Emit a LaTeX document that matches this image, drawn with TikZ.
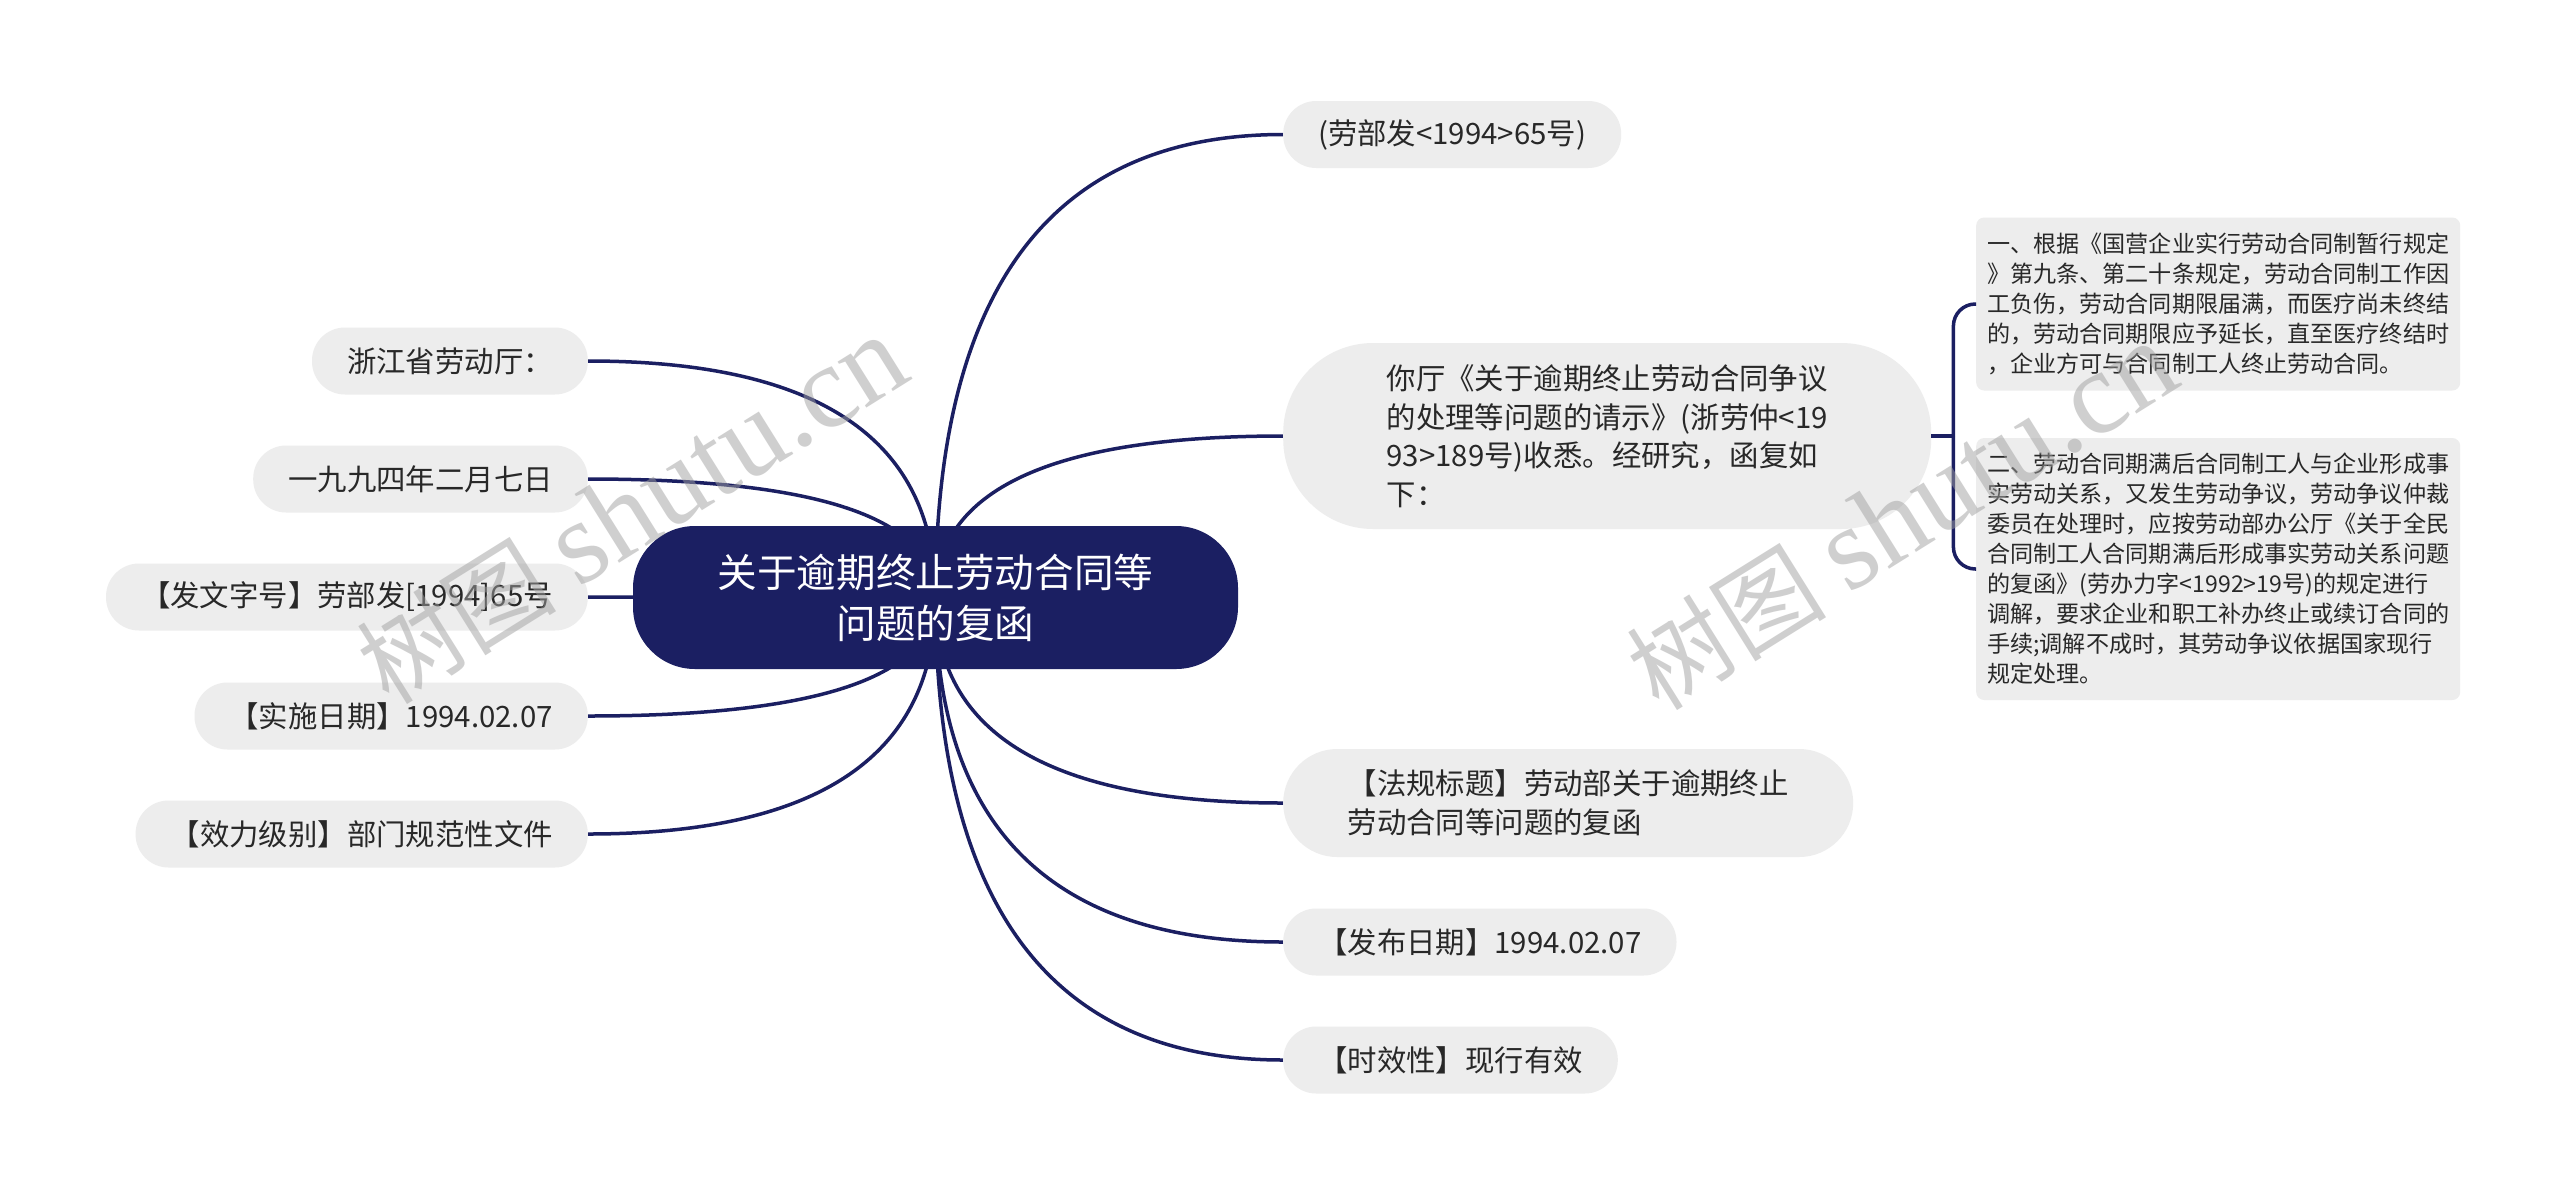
\documentclass[tikz,border=0pt]{standalone}
\usepackage{fontspec}
\setmainfont{Noto Sans CJK SC}
\newfontfamily\wmlatin{Liberation Serif}
\usetikzlibrary{calc,backgrounds}
\definecolor{navy}{RGB}{27,31,98}
\definecolor{boxgray}{RGB}{237,237,237}
\definecolor{txtc}{RGB}{40,40,40}
\definecolor{wmc}{RGB}{160,160,160}
\begin{document}
\begin{tikzpicture}[x=1pt,y=-1pt,
  conn/.style={draw=navy,line width=3.5pt},
  rootbox/.style={fill=navy,text=white,rounded corners=62,minimum width=605,minimum height=143,inner sep=0,align=center,font=\fontsize{39.6}{51}\selectfont},
  leaf/.style={fill=boxgray,text=txtc,rounded corners=33,minimum height=67,inner xsep=35,inner ysep=0,font=\fontsize{29.4}{38.5}\selectfont},
  detail/.style={fill=boxgray,text=txtc,rounded corners=8,minimum width=484,inner sep=0,align=left,font=\fontsize{23.1}{30}\selectfont},
  wm/.style={text=wmc,text opacity=0.5,inner sep=0,font=\fontsize{100}{100}\selectfont}]
\useasboundingbox (0,0) rectangle (2560,1195);

% central topic
\node[rootbox] (root) at (935.5,597.5) {关于逾期终止劳动合同等\\问题的复函};

% right branches
\node[leaf,anchor=west] (r1) at (1283,134.5) {(劳部发<1994>65号)};
\node[leaf,anchor=west,align=left,minimum width=648,minimum height=186,rounded corners=90] (r2) at (1283,436)
  {你厅《关于逾期终止劳动合同争议\\的处理等问题的请示》(浙劳仲<19\\93>189号)收悉。经研究，函复如\\下：};
\node[leaf,anchor=west,align=left,minimum width=570,minimum height=108,rounded corners=54] (r3) at (1283,803)
  {【法规标题】劳动部关于逾期终止\\劳动合同等问题的复函};
\node[leaf,anchor=west] (r4) at (1283,942) {【发布日期】1994.02.07};
\node[leaf,anchor=west] (r5) at (1283,1060) {【时效性】现行有效};

% left branches
\node[leaf,anchor=east] (l1) at (588,361) {浙江省劳动厅：};
\node[leaf,anchor=east] (l2) at (588,479) {一九九四年二月七日};
\node[leaf,anchor=east] (l3) at (588,597) {【发文字号】劳部发[1994]65号};
\node[leaf,anchor=east] (l4) at (588,716) {【实施日期】1994.02.07};
\node[leaf,anchor=east] (l5) at (588,834) {【效力级别】部门规范性文件};

% details of r2
\node[detail,anchor=west,minimum height=173] (c1) at (1976,304)
  {一、根据《国营企业实行劳动合同制暂行规定\\》第九条、第二十条规定，劳动合同制工作因\\工负伤，劳动合同期限届满，而医疗尚未终结\\的，劳动合同期限应予延长，直至医疗终结时\\，企业方可与合同制工人终止劳动合同。};
\node[detail,anchor=west,minimum height=262] (c2) at (1976,569)
  {二、劳动合同期满后合同制工人与企业形成事\\实劳动关系，又发生劳动争议，劳动争议仲裁\\委员在处理时，应按劳动部办公厅《关于全民\\合同制工人合同期满后形成事实劳动关系问题\\的复函》(劳办力字<1992>19号)的规定进行\\调解，要求企业和职工补办终止或续订合同的\\手续;调解不成时，其劳动争议依据国家现行\\规定处理。};

% bracket connector
\coordinate (br) at ($(r2.east)+(22,0)$);
\draw[conn] (r2.east) -- (br);
\draw[conn,rounded corners=22] (br) |- (c1.west);
\draw[conn,rounded corners=22] (br) |- (c2.west);

% connectors from the central topic (behind the nodes)
\begin{pgfonlayer}{background}
  \fill[white] (0,0) rectangle (2560,1195);
  \foreach \n/\a in {r1/west,r2/west,r3/west,r4/west,r5/west,l1/east,l2/east,l3/east,l4/east,l5/east}
    \draw[conn] (root.center) .. controls ($(root.center)!0.6667!(root.center|-\n.\a)$)
      and ($(\n.\a)!0.6667!(root.center|-\n.\a)$) .. (\n.\a);
\end{pgfonlayer}

% watermarks
\node[wm,rotate=32] (wm1) at (632,510) {树图 {\wmlatin\fontsize{118}{118}\selectfont shutu.cn}};
\node[wm,rotate=32] (wm2) at (1902,516) {树图 {\wmlatin\fontsize{118}{118}\selectfont shutu.cn}};
\end{tikzpicture}
\end{document}
